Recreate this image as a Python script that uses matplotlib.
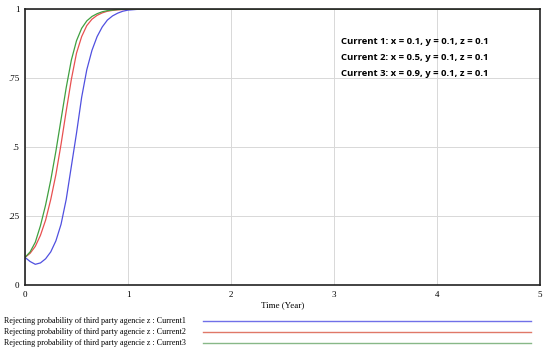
import matplotlib
matplotlib.use("Agg")
import matplotlib.pyplot as plt
from matplotlib.lines import Line2D

t = [0, 0.05, 0.1, 0.15, 0.2, 0.25, 0.3, 0.35, 0.4, 0.45, 0.5, 0.55, 0.6, 0.65,
     0.7, 0.75, 0.8, 0.85, 0.9, 0.95, 1.0, 1.1, 1.2, 2, 3, 4, 5]
current1 = [0.1, 0.085, 0.075, 0.08, 0.095, 0.12, 0.16, 0.22, 0.31, 0.43, 0.55, 0.68, 0.78, 0.85,
            0.9, 0.935, 0.96, 0.975, 0.985, 0.992, 0.996, 0.999, 1.0, 1.0, 1.0, 1.0, 1.0]
current2 = [0.1, 0.115, 0.14, 0.18, 0.235, 0.31, 0.4, 0.51, 0.63, 0.745, 0.84, 0.9, 0.94, 0.963,
            0.977, 0.986, 0.992, 0.995, 0.997, 0.998, 0.999, 1.0, 1.0, 1.0, 1.0, 1.0, 1.0]
current3 = [0.1, 0.12, 0.155, 0.215, 0.29, 0.38, 0.485, 0.6, 0.715, 0.815, 0.885, 0.93, 0.957, 0.973,
            0.983, 0.99, 0.994, 0.996, 0.998, 0.999, 1.0, 1.0, 1.0, 1.0, 1.0, 1.0, 1.0]

series_names = ["Rejecting probability of third party agencie z : Current1",
                "Rejecting probability of third party agencie z : Current2",
                "Rejecting probability of third party agencie z : Current3"]
notes = ["Current 1: x = 0.1, y = 0.1, z = 0.1",
         "Current 2: x = 0.5, y = 0.1, z = 0.1",
         "Current 3: x = 0.9, y = 0.1, z = 0.1"]
xticks = [0, 1, 2, 3, 4, 5]
yticks = [0, 0.25, 0.5, 0.75, 1]
ytick_labels = ["0", ".25", ".5", ".75", "1"]
colors = ["#5050e0", "#e85050", "#40a040"]
legend_colors = ["#7070e8", "#e07868", "#88b888"]

fig = plt.figure(figsize=(5.5, 3.52), dpi=100)
ax = fig.add_axes([25/550, 1-285/352, 515/550, 276/352])
serif = "Liberation Serif"

for y, c in zip([current1, current2, current3], colors):
    ax.plot(t, y, color=c, lw=0.9)

ax.set_xlim(0, 5)
ax.set_ylim(0, 1)
ax.set_xticks(xticks)
ax.set_xticklabels([str(v) for v in xticks], fontfamily=serif, fontsize=6.5)
ax.set_yticks(yticks)
ax.set_yticklabels(ytick_labels, fontfamily=serif, fontsize=6.5)
ax.tick_params(length=0, pad=4)
ax.grid(True, color="#d8d8d8", lw=0.7)
for s in ax.spines.values():
    s.set_color("#222222")
    s.set_linewidth(1.2)
ax.set_xlabel("Time (Year)", fontfamily=serif, fontsize=6.5, labelpad=2)

for i, n in enumerate(notes):
    fig.text(341/550, 1-(41+i*16.5)/352, n,
             fontfamily="Open Sans", fontweight="bold", fontsize=6.8, va="center", ha="left")

for i, (n, c) in enumerate(zip(series_names, legend_colors)):
    yy = 1 - (321 + i*10.8)/352
    fig.text(4/550, yy, n, fontfamily=serif, fontsize=5.9, va="center", ha="left")
    fig.add_artist(Line2D([203/550, 531/550], [yy, yy], color=c, lw=1.0,
                          transform=fig.transFigure))

fig.savefig("out.png", dpi=100)
